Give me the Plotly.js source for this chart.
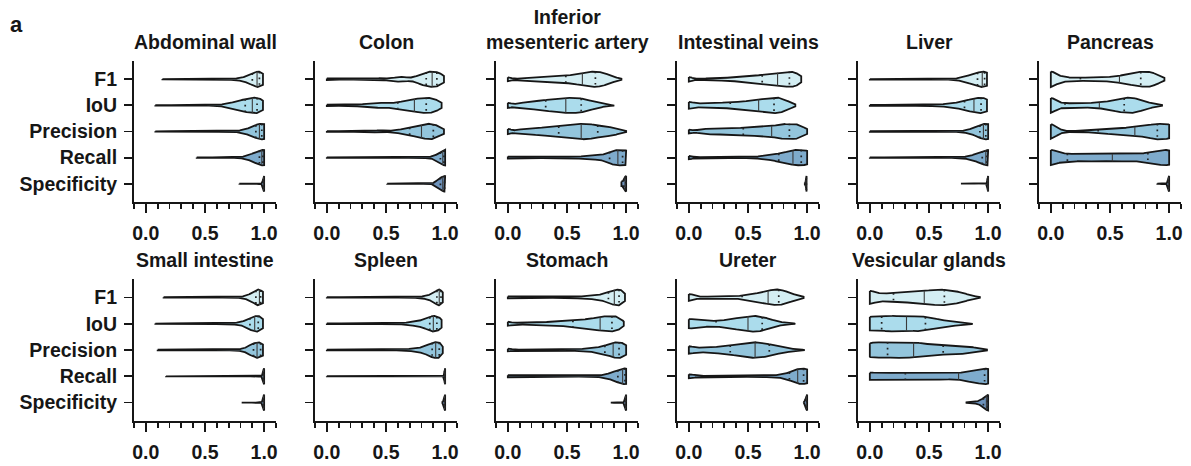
<!DOCTYPE html>
<html><head><meta charset="utf-8">
<script src="https://cdn.plot.ly/plotly-3.0.1.min.js"></script>
<style>html,body{margin:0;padding:0;background:#fff}#chart{width:1191px;height:466px}</style>
</head><body><div id="chart"></div>
<script>
// ---------------- DATA ----------------
const organs = ['Abdominal wall', 'Colon', 'Inferior<br>mesenteric artery', 'Intestinal veins', 'Liver', 'Pancreas',
                'Small intestine', 'Spleen', 'Stomach', 'Ureter', 'Vesicular glands'];
const metrics = ['F1', 'IoU', 'Precision', 'Recall', 'Specificity'];
const xTickValues = [0, 0.5, 1.0];
// score bins (centres) at which the relative frequency of each metric was read
const bins = [0, 0.05, 0.10, 0.15, 0.20, 0.25, 0.30, 0.35, 0.40, 0.45, 0.50, 0.55, 0.60, 0.65, 0.70, 0.75, 0.80, 0.85, 0.90, 0.95, 1.00];

// relative frequency per bin, rows = F1, IoU, Precision, Recall, Specificity
const abdominalWallFreq = [
  [0,0,0,.03,.03,.03,.03,.03,.03,.03,.03,.03,.03,.04,.06,.1,.15,.35,.7,1,.6],
  [0,0,.04,.04,.04,.04,.04,.04,.04,.04,.04,.04,.08,.14,.25,.45,.65,.85,1,1,.5],
  [0,0,.03,.03,.03,.03,.03,.03,.03,.03,.03,.03,.03,.03,.03,.05,.12,.3,.6,.9,1],
  [0,0,0,0,0,0,0,0,0,.03,.03,.03,.03,.03,.03,.03,.06,.2,.45,.8,1],
  [0,0,0,0,0,0,0,0,0,0,0,0,0,0,0,0,.01,.01,.01,.06,1]];
const abdominalWallSpan = [[0.14,0.99],[0.08,0.99],[0.08,1.0],[0.43,1.0],[0.79,1.0]];
const abdominalWallQuart = [[0.90,0.94,0.96],[0.84,0.90,0.94],[0.93,0.96,0.98],[0.96,0.98,0.99],[0.99,0.995,1.0]];

const colonFreq = [
  [.12,.06,.05,.05,.05,.06,.07,.07,.1,.16,.1,.12,.3,.32,.18,.35,.7,.95,1,.85,.3],
  [.1,.08,.07,.06,.06,.1,.15,.22,.28,.32,.33,.3,.4,.55,.7,.82,.95,1,.9,.55,0],
  [.06,.04,.04,.04,.04,.04,.04,.04,.1,.18,.08,.1,.2,.35,.5,.62,.8,1,.95,.65,.2],
  [.03,.03,.03,.03,.03,.03,.03,.03,.03,.03,.03,.03,.03,.03,.03,.03,.04,.06,.15,.5,1],
  [0,0,0,0,0,0,0,0,0,0,0,.02,.02,.02,.02,.02,.02,.02,.03,.6,1]];
const colonSpan = [[0,0.99],[0,0.97],[0,0.99],[0,1.0],[0.51,1.0]];
const colonQuart = [[0.84,0.89,0.93],[0.60,0.74,0.84],[0.70,0.80,0.90],[0.96,0.98,0.99],[0.96,0.98,0.995]];

const imaFreq = [
  [.3,.08,.1,.12,.15,.2,.24,.28,.33,.4,.48,.58,.7,.83,.95,1,.85,.6,.3,.08,0],
  [.4,.15,.3,.4,.5,.58,.66,.75,.83,.9,.97,1,.97,.8,.58,.38,.2,.06,.02,0,0],
  [.4,.12,.25,.32,.4,.46,.52,.58,.64,.7,.78,.87,.96,1,.92,.8,.68,.58,.45,.28,.05],
  [.15,.08,.06,.06,.06,.06,.06,.07,.08,.09,.1,.11,.13,.2,.24,.28,.35,.7,.95,1,1],
  [0,0,0,0,0,0,0,0,0,0,0,0,0,0,0,0,0,0,0,.3,1]];
const imaSpan = [[0,0.96],[0,0.90],[0,1.0],[0,1.0],[0.96,1.0]];
const imaQuart = [[0.49,0.63,0.74],[0.32,0.49,0.62],[0.43,0.62,0.76],[0.86,0.93,0.97],[0.98,0.99,0.998]];

const intestinalVeinsFreq = [
  [.35,.06,.08,.1,.12,.15,.18,.22,.26,.31,.37,.44,.52,.6,.7,.8,.9,1,.9,.35,0],
  [.5,.3,.24,.25,.28,.31,.35,.39,.44,.5,.57,.66,.76,.86,.95,1,.8,.45,.1,0,0],
  [.3,.12,.3,.35,.37,.38,.4,.42,.44,.47,.5,.54,.58,.63,.7,.82,.95,1,.95,.75,.3],
  [.25,.06,.05,.05,.05,.05,.05,.05,.05,.06,.08,.11,.16,.25,.35,.5,.65,.85,1,1,.95],
  [0,0,0,0,0,0,0,0,0,0,0,0,0,0,0,0,0,0,0,.2,1]];
const intestinalVeinsSpan = [[0,0.95],[0,0.90],[0,1.0],[0,1.0],[0.975,0.995]];
const intestinalVeinsQuart = [[0.62,0.75,0.85],[0.35,0.59,0.72],[0.46,0.70,0.85],[0.76,0.88,0.95],[0.985,0.99,0.993]];

const liverFreq = [
  [.03,.03,.03,.03,.03,.03,.03,.03,.03,.03,.03,.03,.03,.03,.06,.15,.3,.55,.8,1,.8],
  [.07,.07,.07,.07,.07,.07,.07,.07,.07,.07,.08,.1,.14,.2,.28,.4,.55,.75,.92,1,.7],
  [.03,.03,.03,.03,.03,.03,.03,.03,.03,.03,.03,.03,.03,.03,.03,.06,.12,.3,.55,.9,1],
  [.03,.03,.03,.03,.03,.03,.03,.03,.03,.03,.03,.03,.03,.03,.03,.05,.1,.22,.45,.75,1],
  [0,0,0,0,0,0,0,0,0,0,0,0,0,0,0,.01,.01,.01,.01,.02,1]];
const liverSpan = [[0,0.99],[0,0.99],[0,1.0],[0,1.0],[0.77,1.0]];
const liverQuart = [[0.91,0.95,0.97],[0.80,0.88,0.94],[0.93,0.96,0.98],[0.95,0.98,0.99],[0.995,0.998,1.0]];

const pancreasFreq = [
  [1.15,.6,.35,.22,.2,.2,.21,.22,.23,.26,.3,.38,.5,.64,.78,.92,1,.9,.6,.2,0],
  [1.1,.55,.3,.27,.27,.28,.29,.31,.36,.45,.58,.72,.88,1,.95,.75,.5,.3,.12,.03,0],
  [1.1,.5,.15,.06,.06,.07,.1,.15,.2,.26,.32,.38,.44,.5,.55,.62,.72,.88,1,1,.95],
  [1.1,.75,.55,.5,.48,.47,.47,.47,.47,.47,.47,.47,.47,.47,.48,.5,.58,.72,.88,1,1],
  [0,0,0,0,0,0,0,0,0,0,0,0,0,0,0,0,0,0,.02,.08,1]];
const pancreasSpan = [[0,0.96],[0,0.94],[0,1.0],[0,1.0],[0.90,1.0]];
const pancreasQuart = [[0.25,0.58,0.76],[0.12,0.41,0.62],[0.40,0.71,0.90],[0.14,0.52,0.82],[0.99,0.995,1.0]];

const smallIntestineFreq = [
  [0,0,0,.03,.03,.03,.03,.03,.03,.03,.03,.03,.03,.03,.03,.03,.06,.2,.55,1,.6],
  [0,0,.03,.03,.03,.03,.03,.03,.06,.06,.06,.06,.06,.06,.06,.09,.18,.45,.85,1,.45],
  [0,0,.03,.03,.03,.03,.03,.03,.03,.03,.03,.05,.05,.05,.05,.05,.1,.3,.75,1,.6],
  [0,0,0,.015,.015,.015,.015,.015,.015,.015,.015,.015,.015,.015,.015,.015,.015,.015,.015,.04,1],
  [0,0,0,0,0,0,0,0,0,0,0,0,0,0,0,0,.015,.015,.015,.06,1]];
const smallIntestineSpan = [[0.15,0.99],[0.08,0.99],[0.10,0.99],[0.17,1.0],[0.81,1.0]];
const smallIntestineQuart = [[0.93,0.96,0.97],[0.88,0.92,0.95],[0.91,0.94,0.97],[0.99,0.995,1.0],[0.99,0.995,1.0]];

const spleenFreq = [
  [.03,.03,.03,.03,.03,.03,.03,.03,.03,.03,.03,.03,.03,.03,.03,.05,.1,.2,.5,1,.3],
  [.04,.04,.04,.04,.04,.04,.04,.04,.04,.04,.04,.05,.07,.1,.18,.28,.42,.7,1,.8,0],
  [.04,.04,.04,.04,.04,.04,.04,.04,.04,.04,.04,.04,.04,.08,.13,.2,.32,.6,.95,1,0],
  [.015,.015,.015,.015,.015,.015,.015,.015,.015,.015,.015,.015,.015,.015,.015,.015,.015,.015,.015,.015,1],
  [0,0,0,0,0,0,0,0,0,0,0,0,0,0,0,0,0,0,0,.05,1]];
const spleenSpan = [[0,0.98],[0,0.97],[0,0.98],[0,1.0],[0.97,1.0]];
const spleenQuart = [[0.93,0.95,0.965],[0.87,0.90,0.93],[0.89,0.92,0.95],[0.995,0.998,1.0],[0.99,0.995,1.0]];

const stomachFreq = [
  [.15,.05,.04,.04,.04,.04,.04,.04,.04,.06,.08,.1,.12,.15,.2,.28,.4,.65,.95,1,.3],
  [.3,.12,.12,.13,.15,.18,.2,.23,.27,.3,.35,.4,.46,.55,.66,.8,.93,1,1,.7,0],
  [.2,.06,.05,.05,.05,.05,.05,.05,.05,.05,.07,.09,.12,.16,.22,.3,.45,.7,.95,1,.6],
  [.15,.04,.04,.04,.04,.04,.04,.04,.04,.04,.04,.04,.04,.04,.04,.07,.13,.3,.55,.85,1],
  [0,0,0,0,0,0,0,0,0,0,0,0,0,0,0,0,0,.01,.02,.06,1]];
const stomachSpan = [[0,0.99],[0,0.98],[0,1.0],[0,1.0],[0.87,1.0]];
const stomachQuart = [[0.85,0.90,0.94],[0.55,0.78,0.88],[0.82,0.89,0.94],[0.93,0.97,0.99],[0.99,0.995,1.0]];

const ureterFreq = [
  [.5,.25,.08,.1,.12,.13,.14,.15,.17,.22,.32,.45,.6,.78,.92,1,.88,.6,.35,.12,0],
  [.65,.55,.45,.38,.35,.38,.45,.55,.7,.85,.97,1,.95,.75,.5,.3,.15,.06,.02,0,0],
  [.55,.35,.3,.32,.36,.42,.5,.6,.72,.85,.95,1,.98,.85,.68,.5,.35,.22,.12,.05,0],
  [.3,.15,.06,.06,.06,.06,.06,.06,.06,.06,.06,.07,.08,.1,.12,.16,.25,.5,.85,1,.95],
  [0,0,0,0,0,0,0,0,0,0,0,0,0,0,0,0,0,0,0,.1,1]];
const ureterSpan = [[0,0.97],[0,0.90],[0,0.98],[0,1.0],[0.97,1.0]];
const ureterQuart = [[0.45,0.67,0.76],[0.23,0.50,0.62],[0.35,0.56,0.68],[0.85,0.92,0.97],[0.985,0.993,0.998]];

const vesicularGlandsFreq = [
  [.95,.6,.5,.52,.56,.6,.64,.68,.72,.8,.88,.95,1,.98,.88,.7,.5,.3,.12,0,0],
  [.95,.9,.92,.95,1,.95,.9,.92,.95,.9,.8,.65,.5,.4,.3,.2,.12,.05,0,0,0],
  [.95,1,1,1,1,1,1,1,.95,.85,.75,.68,.62,.58,.55,.52,.5,.42,.3,.15,.03],
  [.5,.42,.42,.42,.42,.42,.42,.42,.42,.42,.42,.42,.42,.4,.36,.42,.55,.7,.85,.97,1],
  [0,0,0,0,0,0,0,0,0,0,0,0,0,0,0,0,.02,.04,.1,.35,1]];
const vesicularGlandsSpan = [[0,0.93],[0,0.87],[0,0.99],[0,1.0],[0.81,1.0]];
const vesicularGlandsQuart = [[0.20,0.46,0.63],[0.10,0.31,0.47],[0.15,0.37,0.62],[0.30,0.75,0.97],[0.96,0.985,0.995]];

// ---------------- STYLE / LAYOUT ----------------
const freqs = [abdominalWallFreq, colonFreq, imaFreq, intestinalVeinsFreq, liverFreq, pancreasFreq,
               smallIntestineFreq, spleenFreq, stomachFreq, ureterFreq, vesicularGlandsFreq];
const spans = [abdominalWallSpan, colonSpan, imaSpan, intestinalVeinsSpan, liverSpan, pancreasSpan,
               smallIntestineSpan, spleenSpan, stomachSpan, ureterSpan, vesicularGlandsSpan];
const quarts = [abdominalWallQuart, colonQuart, imaQuart, intestinalVeinsQuart, liverQuart, pancreasQuart,
                smallIntestineQuart, spleenQuart, stomachQuart, ureterQuart, vesicularGlandsQuart];

const FONT = 'Liberation Sans, Arial, Helvetica, sans-serif';
const INK = '#161616';
const fills = ['#d4eef3', '#abdcec', '#93c5dc', '#7eabcc', '#6d92bb'];
const W = 1191, H = 466;
const L0 = 134, STEP = 181, PW = 142;
const ROWS = [[61, 202], [279, 421]];
const HALF = 0.30;    // max half-width of a violin (category units)

function density(w, x, h) {
  let s = 0;
  for (let i = 0; i < bins.length; i++) {
    if (!w[i]) continue;
    const z = (x - bins[i]) / h;
    s += w[i] * Math.exp(-0.5 * z * z);
  }
  return s;
}

const traces = [];
const layout = {
  width: W, height: H, margin: {l: 0, r: 0, t: 0, b: 0},
  paper_bgcolor: '#ffffff', plot_bgcolor: 'rgba(0,0,0,0)',
  showlegend: false, hovermode: false, annotations: []
};
const tickFont = {family: FONT, size: 19.5, weight: 'bold', color: INK};

organs.forEach((name, k) => {
  const row = k < 6 ? 0 : 1, col = k < 6 ? k : k - 6;
  const sfx = k === 0 ? '' : String(k + 1);
  const xa = 'x' + sfx, ya = 'y' + sfx;
  const left = L0 + STEP * col;
  const [top, bot] = ROWS[row];
  layout['xaxis' + sfx] = {
    domain: [left / W, (left + PW) / W], anchor: ya,
    range: [-0.0999, 1.1001], tickmode: 'array', tickvals: xTickValues,
    ticktext: xTickValues.map(v => v.toFixed(1)),
    ticks: 'outside', ticklen: 9, tickwidth: 1.8, tickcolor: INK,
    minor: {tickmode: 'linear', tick0: 0, dtick: 0.1, ticks: 'outside', ticklen: 5, tickwidth: 1.8, tickcolor: INK, showgrid: false},
    showline: true, linewidth: 2, linecolor: INK, showgrid: false, zeroline: false,
    tickfont: tickFont, ticklabelstandoff: 4, fixedrange: true
  };
  layout['yaxis' + sfx] = {
    domain: [1 - bot / H, 1 - top / H], anchor: xa,
    range: [4.7, -0.7], tickmode: 'array', tickvals: metrics.map((m, i) => i),
    ticktext: col === 0 ? metrics : metrics.map(() => ''),
    ticks: 'outside', ticklen: 8, tickwidth: 1.8, tickcolor: INK,
    showline: true, linewidth: 2, linecolor: INK, showgrid: false, zeroline: false,
    tickfont: tickFont, ticklabelstandoff: 3, fixedrange: true
  };
  layout.annotations.push({
    text: '<b>' + name + '</b>', xref: 'paper', yref: 'paper',
    x: (left + PW / 2) / W, y: 1 - (row === 0 ? 55 : 273) / H,
    xanchor: 'center', yanchor: 'bottom', showarrow: false,
    font: {family: FONT, size: 19.5, color: INK}
  });

  metrics.forEach((m, j) => {
    const w = freqs[k][j];
    const [lo, hi] = spans[k][j];
    const [q1, med, q3] = quarts[k][j];
    // kernel bandwidth: narrow only for extremely concentrated scores
    const h = Math.min(0.025, Math.max(0.006, 0.9 * (q3 - q1)));
    const n = Math.max(4, Math.ceil((hi - lo) / 0.0015));
    const xs = [], ds = [];
    for (let i = 0; i <= n; i++) { const x = lo + (hi - lo) * i / n; xs.push(x); ds.push(density(w, x, h)); }
    const dmax = Math.max(...ds);
    const hw = ds.map(d => HALF * d / dmax);
    const px = xs.concat(xs.slice().reverse()); px.push(xs[0]);
    const py = xs.map((x, i) => j - hw[i]).concat(xs.map((x, i) => j + hw[i]).reverse()); py.push(j - hw[0]);
    traces.push({type: 'scatter', mode: 'lines', x: px, y: py, fill: 'toself', fillcolor: fills[j],
      line: {color: INK, width: 1.8}, xaxis: xa, yaxis: ya, hoverinfo: 'skip'});
    const hwAt = v => HALF * density(w, v, h) / dmax;
    traces.push({type: 'scatter', mode: 'lines', x: [med, med], y: [j - hwAt(med), j + hwAt(med)],
      line: {color: '#3a3a3a', width: 1.1}, xaxis: xa, yaxis: ya, hoverinfo: 'skip'});
    traces.push({type: 'scatter', mode: 'lines', x: [q1, q1, null, q3, q3],
      y: [j - hwAt(q1), j + hwAt(q1), null, j - hwAt(q3), j + hwAt(q3)],
      line: {color: '#222', width: 1.7, dash: '1.7px,4px'}, xaxis: xa, yaxis: ya, hoverinfo: 'skip'});
  });
});

layout.annotations.push({
  text: '<b>a</b>', xref: 'paper', yref: 'paper', x: 8 / W, y: 1 - 24 / H,
  xanchor: 'left', yanchor: 'middle', showarrow: false,
  font: {family: FONT, size: 22, color: INK}
});

Plotly.newPlot('chart', traces, layout, {staticPlot: true, displayModeBar: false});
</script>
</body></html>
